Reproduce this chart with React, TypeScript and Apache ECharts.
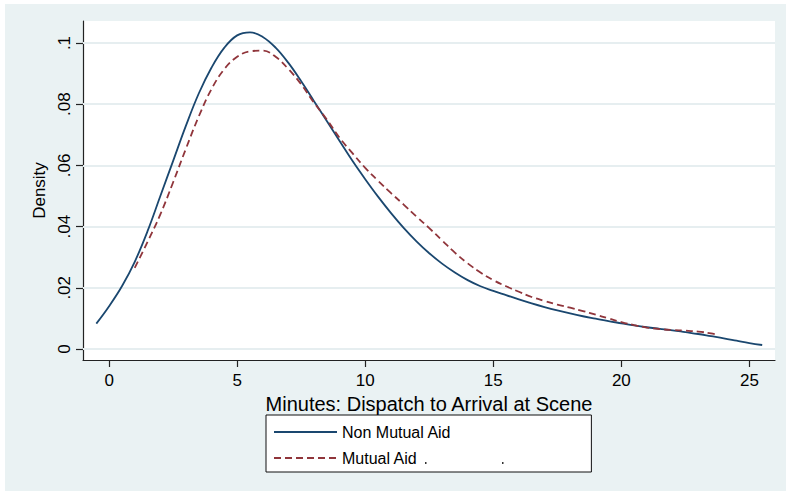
import React, { useEffect, useRef } from "react";
import * as echarts from "echarts";

// Non Mutual Aid density curve (minutes, density)
const nonMutualX = [-0.5, 0, 0.5, 1, 1.5, 2, 2.5, 3, 3.5, 4, 4.5, 5, 5.5, 6, 6.5, 7, 7.5, 8, 8.5, 9, 9.5, 10, 10.5, 11, 11.5, 12, 12.5, 13, 13.5, 14, 14.5, 15, 15.5, 16, 16.5, 17, 17.5, 18, 18.5, 19, 19.5, 20, 20.5, 21, 21.5, 22, 22.5, 23, 23.5, 24, 24.5, 25, 25.5];
const nonMutualY = [0.0083, 0.0140, 0.0205, 0.0285, 0.0385, 0.0500, 0.0615, 0.0730, 0.0835, 0.0920, 0.0985, 0.1025, 0.1035, 0.1020, 0.0985, 0.0935, 0.0875, 0.0810, 0.0745, 0.0680, 0.0615, 0.0555, 0.0498, 0.0445, 0.0396, 0.0352, 0.0313, 0.0279, 0.0250, 0.0225, 0.0205, 0.0190, 0.0176, 0.0162, 0.0149, 0.0137, 0.0126, 0.0116, 0.0107, 0.0099, 0.0091, 0.0084, 0.0077, 0.0071, 0.0066, 0.0061, 0.0055, 0.0049, 0.0042, 0.0035, 0.0027, 0.0019, 0.0013];

// Mutual Aid density curve
const mutualX = [1, 1.5, 2, 2.5, 3, 3.5, 4, 4.5, 5, 5.5, 6, 6.5, 7, 7.5, 8, 8.5, 9, 9.5, 10, 10.5, 11, 11.5, 12, 12.5, 13, 13.5, 14, 14.5, 15, 15.5, 16, 16.5, 17, 17.5, 18, 18.5, 19, 19.5, 20, 20.5, 21, 21.5, 22, 22.5, 23, 23.5, 23.8];
const mutualY = [0.0265, 0.0350, 0.0440, 0.0545, 0.0655, 0.0760, 0.0850, 0.0915, 0.0955, 0.0973, 0.0975, 0.0955, 0.0915, 0.0865, 0.0805, 0.0750, 0.0690, 0.0640, 0.0592, 0.0550, 0.0510, 0.0472, 0.0433, 0.0395, 0.0355, 0.0315, 0.0280, 0.0250, 0.0225, 0.0205, 0.0187, 0.0170, 0.0157, 0.0145, 0.0135, 0.0124, 0.0112, 0.0100, 0.0088, 0.0078, 0.0070, 0.0065, 0.0062, 0.0060, 0.0057, 0.0051, 0.0046];

const xTicks = [0, 5, 10, 15, 20, 25];
const yTicks = [0, 0.02, 0.04, 0.06, 0.08, 0.1];
const yTickLabels = ["0", ".02", ".04", ".06", ".08", ".1"];

const seriesNames = ["Non Mutual Aid", "Mutual Aid"];
const xTitle = "Minutes: Dispatch to Arrival at Scene";
const yTitle = "Density";

const FONT = "'Liberation Sans', Arial, sans-serif";
const NAVY = "#1a476f";
const MAROON = "#90353b";

export default function App() {
  const ref = useRef<HTMLDivElement>(null);

  useEffect(() => {
    if (!ref.current) return;
    const chart = echarts.init(ref.current, undefined, { renderer: "svg" });
    const nonData = nonMutualX.map((x, i) => [x, nonMutualY[i]]);
    const mutData = mutualX.map((x, i) => [x, mutualY[i]]);

    chart.setOption({
      animation: false,
      backgroundColor: "#EAF2F3",
      textStyle: { fontFamily: FONT },
      grid: {
        left: 78,
        top: 17,
        width: 692,
        height: 339,
        show: true,
        backgroundColor: "#ffffff",
        borderWidth: 0,
        containLabel: false,
      },
      xAxis: {
        type: "value",
        min: -1.02,
        max: 26,
        name: xTitle,
        nameLocation: "middle",
        nameGap: 26,
        nameTextStyle: { fontSize: 20, color: "#000", fontFamily: FONT },
        axisLine: { show: true, onZero: false, lineStyle: { color: "#222", width: 1.2 } },
        axisTick: { show: true, length: 7, customValues: xTicks, lineStyle: { color: "#222", width: 1.2 } },
        axisLabel: { customValues: xTicks, margin: 12, fontSize: 17, color: "#000", fontFamily: FONT },
        splitLine: { show: false },
      },
      yAxis: {
        type: "value",
        min: -0.0036,
        max: 0.1072,
        name: yTitle,
        nameLocation: "middle",
        nameGap: 32,
        nameTextStyle: { fontSize: 17, color: "#000", fontFamily: FONT },
        axisLine: { show: true, onZero: false, lineStyle: { color: "#222", width: 1.2 } },
        axisTick: { show: true, length: 7, customValues: yTicks, lineStyle: { color: "#222", width: 1.2 } },
        axisLabel: {
          customValues: yTicks,
          rotate: 90,
          margin: 10,
          fontSize: 17,
          color: "#000",
          fontFamily: FONT,
          formatter: (v: number) => {
            let best = 0;
            yTicks.forEach((t, i) => {
              if (Math.abs(t - v) < Math.abs(yTicks[best] - v)) best = i;
            });
            return yTickLabels[best];
          },
        },
        splitLine: { show: false },
      },
      legend: {
        orient: "vertical",
        left: 261,
        top: 411,
        padding: [9, 140, 6, 7],
        itemWidth: 63,
        itemHeight: 14,
        itemGap: 10,
        backgroundColor: "#ffffff",
        borderColor: "#111",
        borderWidth: 1,
        borderRadius: 0,
        itemStyle: { opacity: 0 },
        textStyle: { fontSize: 16, color: "#000", fontFamily: FONT },
        data: seriesNames,
      },
      graphic: [
        { type: "rect", z: 100, left: 420, top: 458, shape: { width: 1.5, height: 2 }, style: { fill: "#333" } },
        { type: "rect", z: 100, left: 497, top: 458, shape: { width: 1.5, height: 2 }, style: { fill: "#333" } },
      ],
      series: [
        {
          name: "grid",
          type: "line",
          data: [],
          z: 1,
          silent: true,
          markLine: {
            z: 1,
            silent: true,
            symbol: ["none", "none"],
            label: { show: false },
            lineStyle: { color: "#E6EEF0", width: 2, type: "solid" },
            data: yTicks.map((t) => ({ yAxis: t })),
          },
        },
        {
          name: seriesNames[0],
          type: "line",
          data: nonData,
          smooth: 0.4,
          symbol: "none",
          showSymbol: false,
          z: 3,
          lineStyle: { color: NAVY, width: 1.8, type: "solid" },
          itemStyle: { color: NAVY },
        },
        {
          name: seriesNames[1],
          type: "line",
          data: mutData,
          smooth: 0.4,
          symbol: "none",
          showSymbol: false,
          z: 3,
          lineStyle: { color: MAROON, width: 1.8, type: [7, 4] },
          itemStyle: { color: MAROON },
        },
      ],
    });
    return () => chart.dispose();
  }, []);

  return (
    <div style={{ position: "fixed", left: 0, top: 0, width: 786, height: 491, background: "#ffffff" }}>
      <div ref={ref} style={{ position: "absolute", left: 5, top: 4, width: 781, height: 487 }} />
    </div>
  );
}
